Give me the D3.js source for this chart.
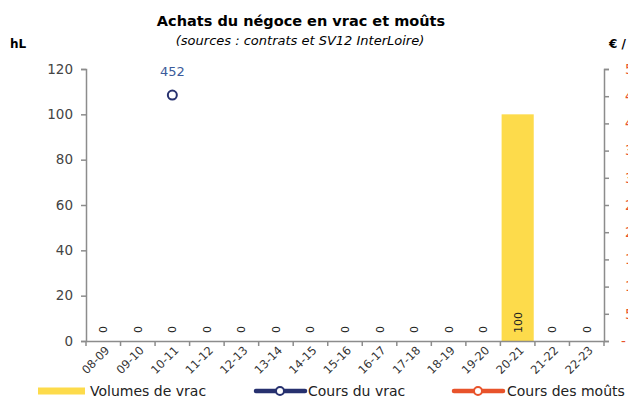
<!DOCTYPE html>
<html>
<head>
<meta charset="utf-8">
<script src="https://cdn.jsdelivr.net/npm/d3@7"></script>
<style>
  body { margin: 0; background: #fff; }
  svg { font-family: "DejaVu Sans", sans-serif; }
</style>
</head>
<body>
<svg id="chart" width="628" height="403"></svg>
<script>
// campagnes
var seasons = ["08-09","09-10","10-11","11-12","12-13","13-14","14-15","15-16","16-17","17-18","18-19","19-20","20-21","21-22","22-23"];
// volumes de vrac (hL)
var volumes = [0,0,0,0,0,0,0,0,0,0,0,0,100,0,0];
// cours du vrac (€ / hL)
var coursVrac = [null,null,452,null,null,null,null,null,null,null,null,null,null,null,null];
// cours des moûts (€ / hL)
var coursMouts = [null,null,null,null,null,null,null,null,null,null,null,null,null,null,null];
var leftTicks = [0,20,40,60,80,100,120];
var rightTicks = [0,50,100,150,200,250,300,350,400,450,500];

var yellow = "#fddb4b", navy = "#27316f", orange = "#e8532b", axisGrey = "#8c8c8c";

var svg = d3.select("#chart");
var pLeft = 86, pRight = 604, pTop = 69, pBottom = 341;

var x = d3.scaleBand().domain(seasons).range([pLeft, pRight]).paddingInner(0.07).paddingOuter(0.035);
var xb = d3.scaleBand().domain(seasons).range([pLeft, pRight]);
var yL = d3.scaleLinear().domain([0, 120]).range([pBottom, pTop]);
var yR = d3.scaleLinear().domain([0, 500]).range([pBottom, pTop]);

// titre
svg.append("text").attr("x", 301).attr("y", 26).attr("text-anchor", "middle")
  .style("font-weight", "bold").style("font-size", "14.5px").text("Achats du négoce en vrac et moûts");
svg.append("text").attr("x", 300).attr("y", 45).attr("text-anchor", "middle")
  .style("font-style", "italic").style("font-size", "13px").text("(sources : contrats et SV12 InterLoire)");
svg.append("text").attr("x", 10).attr("y", 48).style("font-weight", "bold").style("font-size", "12px").text("hL");
svg.append("text").attr("x", 609).attr("y", 48).style("font-weight", "bold").style("font-size", "12px").text("€ / hL");

// barres
svg.selectAll("rect.bar").data(seasons).enter().append("rect")
  .attr("class", "bar")
  .attr("x", function(d) { return x(d); })
  .attr("width", x.bandwidth())
  .attr("y", function(d, i) { return yL(volumes[i]); })
  .attr("height", function(d, i) { return pBottom - yL(volumes[i]); })
  .attr("fill", yellow);

// étiquettes des barres
svg.selectAll("text.blab").data(seasons).enter().append("text")
  .attr("class", "blab")
  .attr("transform", function(d) { return "translate(" + (xb(d) + xb.bandwidth() / 2 + 4) + "," + (pBottom - 8) + ") rotate(-90)"; })
  .style("font-size", "11px").attr("fill", "#222")
  .text(function(d, i) { return volumes[i]; });

// axes
var gL = svg.append("g").attr("transform", "translate(" + pLeft + ",0)")
  .call(d3.axisLeft(yL).tickValues(leftTicks).tickSize(5).tickPadding(8));
gL.selectAll("text").style("font-size", "13.5px").attr("fill", "#444").style("font-family", "DejaVu Sans");

var gR = svg.append("g").attr("transform", "translate(" + pRight + ",0)")
  .call(d3.axisRight(yR).tickValues(rightTicks).tickSize(5).tickPadding(16)
    .tickFormat(function(d) { return d === 0 ? "-" : d; }));
gR.selectAll("text").style("font-size", "13.5px").attr("fill", orange).style("font-family", "DejaVu Sans")
  .attr("dx", function(d) { return d === 0 ? -4 : 0; });

var gX = svg.append("g").attr("transform", "translate(0," + pBottom + ")")
  .call(d3.axisBottom(xb).tickSize(0).tickFormat(""));
gX.selectAll(".tick").remove();
gX.selectAll("line.btick").data(seasons.concat(["end"])).enter().append("line")
  .attr("class", "btick")
  .attr("x1", function(d, i) { return pLeft + i * xb.bandwidth(); })
  .attr("x2", function(d, i) { return pLeft + i * xb.bandwidth(); })
  .attr("y1", 0).attr("y2", 5);

svg.selectAll("text.xlab").data(seasons).enter().append("text")
  .attr("class", "xlab")
  .attr("transform", function(d) { return "translate(" + (xb(d) + xb.bandwidth() / 2 + 7) + "," + (pBottom + 10) + ") rotate(-45)"; })
  .attr("text-anchor", "end").style("font-size", "11.5px").attr("fill", "#333")
  .text(function(d) { return d; });

svg.selectAll(".domain, .tick line, line.btick").attr("stroke", axisGrey).attr("stroke-width", 1.5);

// cours du vrac
var pts = seasons.map(function(d, i) { return { s: d, v: coursVrac[i] }; }).filter(function(p) { return p.v != null; });
var line = d3.line().defined(function(d) { return d.v != null; })
  .x(function(d) { return xb(d.s) + xb.bandwidth() / 2; }).y(function(d) { return yR(d.v); });
svg.append("path").datum(seasons.map(function(d, i) { return { s: d, v: coursVrac[i] }; }))
  .attr("d", line).attr("fill", "none").attr("stroke", navy).attr("stroke-width", 3);
svg.selectAll("circle.vrac").data(pts).enter().append("circle")
  .attr("cx", function(d) { return xb(d.s) + xb.bandwidth() / 2; })
  .attr("cy", function(d) { return yR(d.v); })
  .attr("r", 4.5).attr("fill", "#fff").attr("stroke", navy).attr("stroke-width", 2);
svg.selectAll("text.vlab").data(pts).enter().append("text")
  .attr("x", function(d) { return xb(d.s) + xb.bandwidth() / 2; })
  .attr("y", function(d) { return yR(d.v) - 19; })
  .attr("text-anchor", "middle").style("font-size", "13px").attr("fill", "#3b5b9a")
  .text(function(d) { return d.v; });

// cours des moûts
var ptsM = seasons.map(function(d, i) { return { s: d, v: coursMouts[i] }; });
svg.append("path").datum(ptsM).attr("d", line).attr("fill", "none").attr("stroke", orange).attr("stroke-width", 3);

// légende
var lg = svg.append("g").attr("transform", "translate(0,391)");
lg.append("rect").attr("x", 38).attr("y", -3.5).attr("width", 47).attr("height", 7).attr("fill", yellow);
lg.append("text").attr("x", 90).attr("y", 5).style("font-size", "14px").attr("fill", "#222").text("Volumes de vrac");
lg.append("line").attr("x1", 256).attr("x2", 305).attr("stroke", navy).attr("stroke-width", 4.5).attr("stroke-linecap", "round");
lg.append("circle").attr("cx", 280).attr("r", 4).attr("fill", "#fff").attr("stroke", navy).attr("stroke-width", 2);
lg.append("text").attr("x", 308).attr("y", 5).style("font-size", "14px").attr("fill", "#222").text("Cours du vrac");
lg.append("line").attr("x1", 454).attr("x2", 503).attr("stroke", orange).attr("stroke-width", 4.5).attr("stroke-linecap", "round");
lg.append("circle").attr("cx", 478).attr("r", 4).attr("fill", "#fff").attr("stroke", orange).attr("stroke-width", 2);
lg.append("text").attr("x", 507).attr("y", 5).style("font-size", "14px").attr("fill", "#222").text("Cours des moûts");
</script>
</body>
</html>
